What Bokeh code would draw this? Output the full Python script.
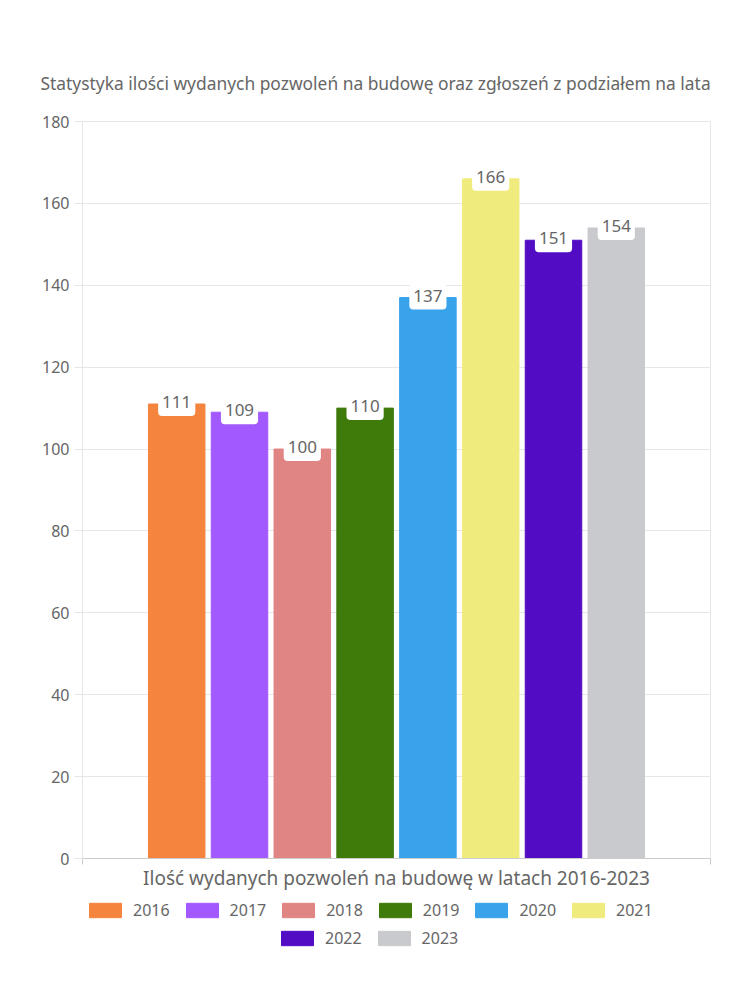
from bokeh.plotting import figure
from bokeh.layouts import column
from bokeh.models import (ColumnDataSource, Range1d, FixedTicker, Legend, LegendItem)
from bokeh.core.properties import value
from bokeh.embed import file_html
from bokeh.resources import INLINE

years = ["2016", "2017", "2018", "2019", "2020", "2021", "2022", "2023"]
counts = [111, 109, 100, 110, 137, 166, 151, 154]
colors = ["#F5843F", "#A259FF", "#E08484", "#3E7B0B", "#38A3EB", "#F0EB7D", "#520CC4", "#C9CACD"]
y_ticks = [0, 20, 40, 60, 80, 100, 120, 140, 160, 180]
title_text = "Statystyka ilości wydanych pozwoleń na budowę oraz zgłoszeń z podziałem na lata"
x_label = "Ilość wydanych pozwoleń na budowę w latach 2016-2023"

FONT = "Noto Sans"
GRAY = "#666666"

xs = [i + 1.5 for i in range(len(years))]
src = ColumnDataSource(dict(x=xs, top=counts, color=colors, year=years,
                            lbl=[str(c) for c in counts]))

p = figure(width=750, height=895, output_backend="svg", toolbar_location=None,
           x_range=Range1d(0, 10), y_range=Range1d(0, 180),
           min_border_left=82, min_border_right=40, min_border_top=121,
           min_border_bottom=37)

p.title.text = title_text
p.title.text_font = FONT
p.title.text_font_size = "17.4px"
p.title.text_color = GRAY
p.title.text_font_style = "normal"
p.title.align = "left"
p.title.offset = -42
p.title.standoff = 54

r = p.vbar(x="x", top="top", width=0.9, color="color", source=src)

p.text(x="x", y="top", text="lbl", source=src, text_align="center",
       text_baseline="middle", text_font=value(FONT), text_font_size="17px",
       text_color=GRAY, background_fill_color="white",
       padding=dict(left=4, right=4, top=6, bottom=8),
       border_radius=4, y_offset=-1)

p.xgrid.visible = False
p.ygrid.grid_line_color = "#e6e6e6"
p.outline_line_color = "#e6e6e6"

ya = p.yaxis[0]
ya.ticker = FixedTicker(ticks=y_ticks)
ya.major_label_text_font = FONT
ya.major_label_text_font_size = "16px"
ya.major_label_text_color = GRAY
ya.axis_line_color = "#e6e6e6"
ya.major_tick_line_color = "#e6e6e6"
ya.major_tick_out = 8
ya.major_tick_in = 0
ya.minor_tick_line_color = None

xa = p.xaxis[0]
xa.ticker = FixedTicker(ticks=[0, 10])
xa.major_label_text_font_size = "0px"
xa.major_label_text_color = None
xa.axis_line_color = "#cccccc"
xa.major_tick_line_color = "#cccccc"
xa.major_tick_out = 6
xa.major_tick_in = 0
xa.minor_tick_line_color = None
xa.axis_label = x_label
xa.axis_label_text_font = FONT
xa.axis_label_text_font_size = "19px"
xa.axis_label_text_color = GRAY
xa.axis_label_text_font_style = "normal"
xa.axis_label_standoff = 0

# legend figure (frame aligned with the main frame)
p2 = figure(width=750, height=105, output_backend="svg", toolbar_location=None,
            x_range=Range1d(0, 10), y_range=Range1d(1000, 1001),
            x_axis_type=None, y_axis_type=None,
            min_border_left=82, min_border_right=40, min_border_top=0,
            min_border_bottom=0)
p2.outline_line_color = None
p2.grid.visible = False
r2 = p2.vbar(x="x", top="top", width=0.9, color="color", source=src)

items = [LegendItem(label=y, renderers=[r2], index=i) for i, y in enumerate(years)]

def make_legend(its, loc):
    return Legend(items=its, orientation="horizontal", location=loc,
                  glyph_width=40, glyph_height=18, label_standoff=8, spacing=12,
                  padding=0, margin=0, border_line_color=None,
                  background_fill_alpha=0, label_text_font=FONT,
                  label_text_font_size="16px", label_text_color=GRAY,
                  label_height=18)

p2.add_layout(make_legend(items[:6], (3, 79)), "center")
p2.add_layout(make_legend(items[6:], (195, 51)), "center")

open("out.html", "w").write(file_html(column(p, p2), INLINE))
